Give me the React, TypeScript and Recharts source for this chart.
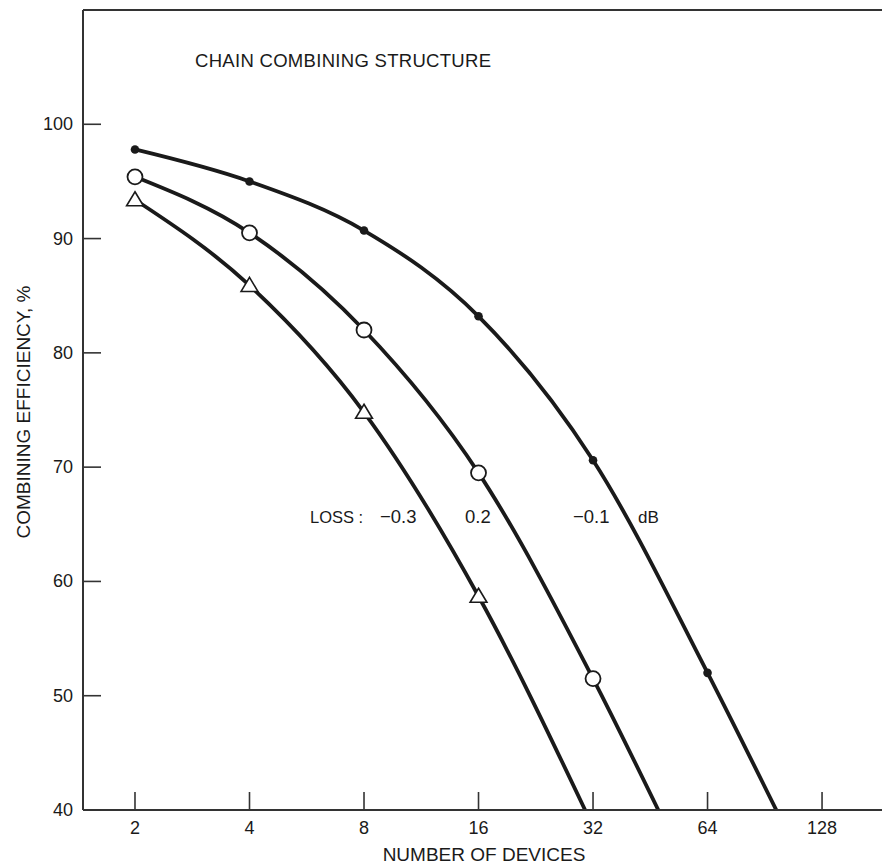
import { LineChart, Line, XAxis, YAxis, ReferenceLine } from "recharts";

// number of devices where each curve has a marker
const devices = [2, 4, 8, 16, 32, 64];
const xTicks = [2, 4, 8, 16, 32, 64, 128];
const yTicks = [40, 50, 60, 70, 80, 90, 100];

// combining efficiency (%)
const lossMinus01 = [97.8, 95.0, 90.7, 83.2, 70.6, 52.0];
const loss02 = [95.4, 90.5, 82.0, 69.5, 51.5];
const lossMinus03 = [93.4, 85.9, 74.8, 58.7];

// where each curve runs into the 40 % floor (no marker there)
const floorMinus01 = 97;
const floor02 = 47.5;
const floorMinus03 = 30.5;

const FONT = '"Liberation Sans", Arial, Helvetica, sans-serif';
const INK = "#1a1a1a";

const build = (vals: number[], floor: number) => [
  ...vals.map((v, i) => ({ n: devices[i], eff: v, mark: true })),
  { n: floor, eff: 40, mark: false },
];

const dataA = build(lossMinus01, floorMinus01);
const dataB = build(loss02, floor02);
const dataC = build(lossMinus03, floorMinus03);

const FilledDot = (props: any) => {
  const { cx, cy, payload } = props;
  if (!payload?.mark) return <g key={`a${cx}`} />;
  return <circle key={`a${cx}`} cx={cx} cy={cy} r={4.3} fill={INK} />;
};

const OpenDot = (props: any) => {
  const { cx, cy, payload } = props;
  if (!payload?.mark) return <g key={`b${cx}`} />;
  return <circle key={`b${cx}`} cx={cx} cy={cy} r={7.5} fill="#fff" stroke={INK} strokeWidth={1.8} />;
};

const Triangle = (props: any) => {
  const { cx, cy, payload } = props;
  if (!payload?.mark) return <g key={`c${cx}`} />;
  const s = 8;
  return (
    <path
      key={`c${cx}`}
      d={`M${cx},${cy - s} L${cx + s * 1.05},${cy + s * 0.75} L${cx - s * 1.05},${cy + s * 0.75} Z`}
      fill="#fff"
      stroke={INK}
      strokeWidth={1.6}
    />
  );
};

const XTick = (props: any) => {
  const { x, y, payload } = props;
  return (
    <g>
      <line x1={x} x2={x} y1={y} y2={y - 18} stroke="#333" strokeWidth={1.6} />
      <text x={x} y={y + 24} textAnchor="middle" fontSize={18} fill={INK} fontFamily={FONT}>
        {payload.value}
      </text>
    </g>
  );
};

const YTick = (props: any) => {
  const { x, y, payload } = props;
  return (
    <g>
      <line x1={x} x2={x + 18} y1={y} y2={y} stroke="#333" strokeWidth={1.6} />
      <text x={x - 10} y={y + 6} textAnchor="end" fontSize={18} fill={INK} fontFamily={FONT}>
        {payload.value}
      </text>
    </g>
  );
};

export default function App() {
  return (
    <div style={{ position: "absolute", left: 0, top: 0, background: "#fff" }}>
      <LineChart width={882} height={865} margin={{ top: 10, right: 0, left: 0, bottom: 0 }}>
        <XAxis
          dataKey="n"
          type="number"
          scale="log"
          domain={[1.46, 184]}
          allowDataOverflow
          ticks={xTicks}
          tick={<XTick />}
          tickSize={0}
          tickMargin={0}
          tickLine={false}
          axisLine={{ stroke: "#333", strokeWidth: 2 }}
          height={55}
        />
        <YAxis
          type="number"
          domain={[40, 110]}
          allowDataOverflow
          ticks={yTicks}
          tick={<YTick />}
          tickSize={0}
          tickMargin={0}
          tickLine={false}
          axisLine={{ stroke: "#333", strokeWidth: 2 }}
          width={83}
        />
        <ReferenceLine y={110} stroke="#333" strokeWidth={2} />

        <Line
          data={dataA}
          dataKey="eff"
          type="monotoneX"
          stroke={INK}
          strokeWidth={3.8}
          dot={<FilledDot />}
          activeDot={false}
          isAnimationActive={false}
        />
        <Line
          data={dataB}
          dataKey="eff"
          type="monotoneX"
          stroke={INK}
          strokeWidth={3.8}
          dot={<OpenDot />}
          activeDot={false}
          isAnimationActive={false}
        />
        <Line
          data={dataC}
          dataKey="eff"
          type="monotoneX"
          stroke={INK}
          strokeWidth={3.8}
          dot={<Triangle />}
          activeDot={false}
          isAnimationActive={false}
        />

        <text x={195} y={67} fontSize={18.5} letterSpacing={0.3} fill={INK} fontFamily={FONT}>
          CHAIN COMBINING STRUCTURE
        </text>
        <text x={310} y={523} fontSize={16.5} fill={INK} fontFamily={FONT}>
          LOSS :
        </text>
        <text x={380} y={523} fontSize={18.5} fill={INK} fontFamily={FONT}>
          −0.3
        </text>
        <text x={465} y={523} fontSize={18.5} fill={INK} fontFamily={FONT}>
          0.2
        </text>
        <text x={573} y={523} fontSize={18.5} fill={INK} fontFamily={FONT}>
          −0.1
        </text>
        <text x={638} y={523} fontSize={17} fill={INK} fontFamily={FONT}>
          dB
        </text>
        <text x={484} y={861} textAnchor="middle" fontSize={19} fill={INK} fontFamily={FONT}>
          NUMBER OF DEVICES
        </text>
        <text
          x={0}
          y={0}
          transform="translate(30 412) rotate(-90)"
          textAnchor="middle"
          fontSize={19}
          fill={INK}
          fontFamily={FONT}
        >
          COMBINING EFFICIENCY, %
        </text>
      </LineChart>
    </div>
  );
}
